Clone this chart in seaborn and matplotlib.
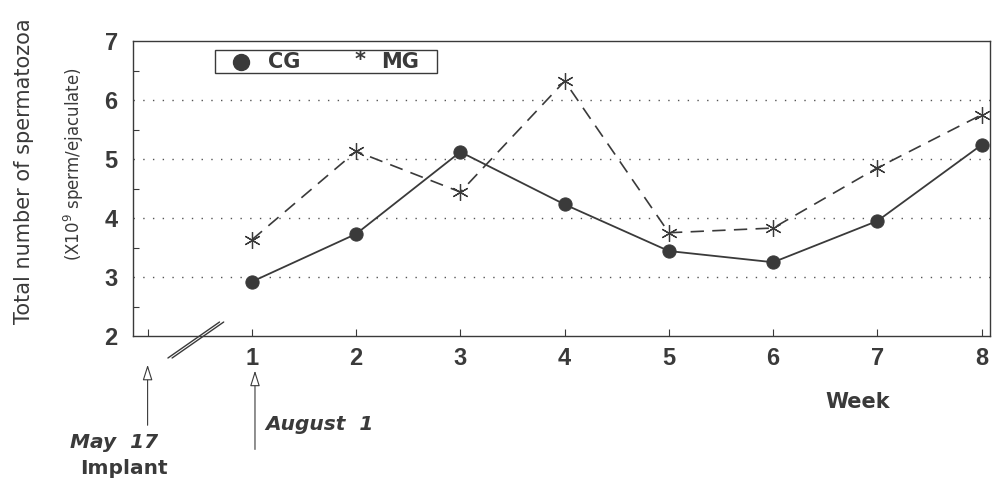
import matplotlib
matplotlib.use("Agg")
import matplotlib.pyplot as plt
from matplotlib.lines import Line2D
from matplotlib.patches import Rectangle
import seaborn as sns
import pandas as pd

weeks = [1, 2, 3, 4, 5, 6, 7, 8]
cg_values = [2.92, 3.73, 5.12, 4.23, 3.44, 3.25, 3.95, 5.24]
mg_values = [3.63, 5.13, 4.44, 6.32, 3.75, 3.83, 4.85, 5.75]
y_ticks = [2, 3, 4, 5, 6, 7]
x_tick_labels = ["1", "2", "3", "4", "5", "6", "7", "8"]

sns.set_style("white")
plt.rcParams['font.family'] = ['DejaVu Sans']
ink = "#3a3a3a"
W, H = 999, 480

def fx(px):
    return px / W

def fy(py):
    return 1 - py / H

df = pd.DataFrame({
    "week": weeks * 2,
    "value": cg_values + mg_values,
    "group": ["CG"] * len(weeks) + ["MG"] * len(weeks),
})

fig = plt.figure(figsize=(9.99, 4.8), dpi=100)
ax = fig.add_axes([fx(133), fy(336), fx(990) - fx(133), fy(41) - fy(336)])

sns.lineplot(data=df[df.group == "CG"], x="week", y="value", ax=ax,
             color=ink, lw=1.3, marker="o", markersize=9.5,
             markeredgecolor=ink, markerfacecolor=ink, legend=False)
sns.lineplot(data=df[df.group == "MG"], x="week", y="value", ax=ax,
             color=ink, lw=1.2, linestyle=(0, (8, 5)), marker=(6, 2, 0),
             markersize=12, markeredgecolor=ink, markeredgewidth=0.9,
             legend=False)

ax.set_xlim(-0.14, 8.08)
ax.set_ylim(2, 7)
for y in [3, 4, 5, 6]:
    ax.axhline(y, color="#555555", lw=1.0, linestyle=(0, (1, 6)), zorder=0)

tick_font = {"family": "Liberation Sans", "size": 17, "weight": "bold"}
ax.set_yticks(y_ticks)
ax.set_yticks([2.5, 3.5, 4.5, 5.5, 6.5], minor=True)
ax.set_yticklabels([str(t) for t in y_ticks], fontdict=tick_font, color=ink)
ax.set_xticks([0] + weeks)
ax.set_xticklabels([""] + x_tick_labels, fontdict=tick_font, color=ink)
ax.tick_params(axis="both", which="both", direction="in", length=5, width=0.8,
               color=ink, bottom=True, left=True)
ax.tick_params(axis="y", which="minor", length=4)
ax.tick_params(axis="y", which="major", length=0, pad=11)
ax.tick_params(axis="x", which="major", pad=8)
ax.set_xlabel("")
ax.set_ylabel("")
for s in ax.spines.values():
    s.set_color(ink)
    s.set_linewidth(1.0)

# axis break marks
for dx in (0, 0.04):
    ax.plot([0.195 + dx, 0.69 + dx], [1.627, 2.237], color=ink, lw=1.0,
            clip_on=False)

# legend box (drawn by hand to match the original layout)
fig.add_artist(Rectangle((fx(215), fy(73)), fx(437) - fx(215), fy(50) - fy(73),
                         transform=fig.transFigure, fill=False, ec=ink, lw=1.0))
fig.add_artist(Line2D([fx(241)], [fy(62)], marker="o", markersize=11.5,
                      color=ink, transform=fig.transFigure))
fig.text(fx(268), fy(62), "CG", fontsize=15, fontweight="bold", color=ink,
         ha="left", va="center")
fig.text(fx(360), fy(60), "*", fontsize=15, fontweight="bold", color=ink,
         ha="center", va="center")
fig.text(fx(381), fy(62), "MG", fontsize=15, fontweight="bold", color=ink,
         ha="left", va="center")

# y label
fig.text(fx(24), fy(171), "Total number of spermatozoa", rotation=90, ha="center",
         va="center", fontsize=15, color=ink)
fig.text(fx(74), fy(164), r"(X10$^{9}$ sperm/ejaculate)", rotation=90, ha="center",
         va="center", fontsize=12, color=ink)

# annotations
arrow_style = dict(arrowstyle="-|>,head_length=0.95,head_width=0.3",
                   fc="white", ec=ink, lw=0.8)
ax.annotate("", xy=(0, 1.56), xytext=(0, 0.44), arrowprops=arrow_style,
            annotation_clip=False)
ax.annotate("", xy=(1.03, 1.46), xytext=(1.03, 0.03), arrowprops=arrow_style,
            annotation_clip=False)

fig.text(fx(70), fy(443), "May  17", fontsize=14.5, fontweight="bold", style="italic",
         color=ink, ha="left", va="center")
fig.text(fx(80), fy(468), "Implant", fontsize=14.5, fontweight="bold",
         color=ink, ha="left", va="center")
fig.text(fx(265), fy(425), "August  1", fontsize=14.5, fontweight="bold", style="italic",
         color=ink, ha="left", va="center")
fig.text(fx(858), fy(402), "Week", fontsize=15, fontweight="bold", color=ink,
         ha="center", va="center")

fig.savefig("out.png", dpi=100)
